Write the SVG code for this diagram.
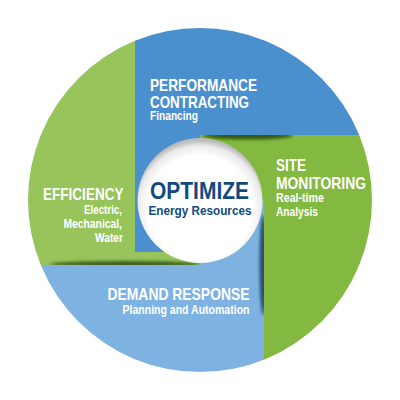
<svg xmlns="http://www.w3.org/2000/svg" width="400" height="400" viewBox="0 0 400 400">
<style>
.t{font-family:"Liberation Sans",Arial,sans-serif;font-weight:bold;font-size:17px;fill:#fff}
.s{font-family:"Liberation Sans",Arial,sans-serif;font-weight:bold;font-size:12.5px;fill:#fff}
.c{font-family:"Liberation Sans",Arial,sans-serif;font-weight:bold;fill:#114a7e}
</style>
<defs>
<clipPath id="outer"><circle cx="200" cy="200" r="172"/></clipPath>
<clipPath id="belowTop"><rect x="0" y="135" width="400" height="20"/></clipPath>
<clipPath id="leftOfRight"><rect x="240" y="0" width="24" height="400"/></clipPath>
<clipPath id="aboveBottom"><rect x="0" y="245" width="400" height="20"/></clipPath>
<filter id="blur" x="-50%" y="-50%" width="200%" height="200%"><feGaussianBlur stdDeviation="1.6"/></filter>
<radialGradient id="hole" cx="0.5" cy="0.56" r="0.54">
<stop offset="0" stop-color="#ffffff"/>
<stop offset="0.78" stop-color="#ffffff"/>
<stop offset="0.92" stop-color="#ebebeb"/>
<stop offset="1" stop-color="#bdbdbd"/>
</radialGradient>
</defs>
<g clip-path="url(#outer)">
<g id="performance">
<path d="M135,0 H400 V135 H200 V252 H135 Z" fill="#4a8fce"/>
</g>
<g id="efficiency">
<path d="M0,0 H135 V252 H200 V265 H0 Z" fill="#97c45b"/>
<g clip-path="url(#aboveBottom)"><ellipse cx="125" cy="264" rx="75" ry="3" fill="#2f4f16" opacity="0.85" filter="url(#blur)"/></g>
</g>
<g id="site">
<path d="M200,135 H400 V400 H264 V200 H200 Z" fill="#83b940"/>
<g clip-path="url(#belowTop)"><ellipse cx="248" cy="136" rx="45" ry="3.5" fill="#2c4f0e" opacity="0.9" filter="url(#blur)"/></g>
</g>
<g id="demand">
<path d="M0,265 H200 V200 H264 V400 H0 Z" fill="#7eb2e1"/>
<g clip-path="url(#leftOfRight)"><ellipse cx="263" cy="265" rx="3.5" ry="50" fill="#1b3a5e" opacity="0.85" filter="url(#blur)"/></g>
</g>
</g>
<g id="center">
<circle cx="200" cy="200.5" r="62.5" fill="url(#hole)"/>
<text class="c" x="150" y="198.5" font-size="24.5" textLength="99" lengthAdjust="spacingAndGlyphs">OPTIMIZE</text>
<text class="c" x="148.5" y="215" font-size="12" textLength="103" lengthAdjust="spacingAndGlyphs">Energy Resources</text>
</g>
<g id="labels-performance">
<text class="t" x="150" y="91" textLength="107" lengthAdjust="spacingAndGlyphs">PERFORMANCE</text>
<text class="t" x="150" y="107.5" textLength="99" lengthAdjust="spacingAndGlyphs">CONTRACTING</text>
<text class="s" x="150" y="120" textLength="48" lengthAdjust="spacingAndGlyphs">Financing</text>
</g>
<g id="labels-site">
<text class="t" x="276" y="170.5" textLength="30" lengthAdjust="spacingAndGlyphs">SITE</text>
<text class="t" x="276" y="188.5" textLength="90" lengthAdjust="spacingAndGlyphs">MONITORING</text>
<text class="s" x="276" y="202" textLength="48" lengthAdjust="spacingAndGlyphs">Real-time</text>
<text class="s" x="276" y="216" textLength="42" lengthAdjust="spacingAndGlyphs">Analysis</text>
</g>
<g id="labels-efficiency">
<text class="t" x="43" y="200" textLength="80.5" lengthAdjust="spacingAndGlyphs">EFFICIENCY</text>
<text class="s" x="84" y="214" textLength="38" lengthAdjust="spacingAndGlyphs">Electric,</text>
<text class="s" x="63.5" y="228" textLength="58.5" lengthAdjust="spacingAndGlyphs">Mechanical,</text>
<text class="s" x="95" y="241.7" textLength="28" lengthAdjust="spacingAndGlyphs">Water</text>
</g>
<g id="labels-demand">
<text class="t" x="107.5" y="300" textLength="142" lengthAdjust="spacingAndGlyphs">DEMAND RESPONSE</text>
<text class="s" x="122.5" y="313.5" textLength="127" lengthAdjust="spacingAndGlyphs">Planning and Automation</text>
</g>
<g id="connectors"/>
</svg>
